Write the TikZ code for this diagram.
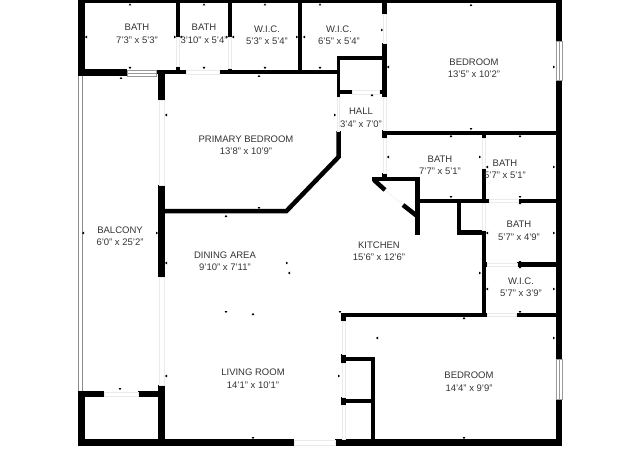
\documentclass[tikz,border=0pt]{standalone}
\usepackage{fontspec}
\setmainfont{Liberation Sans}
\definecolor{roomtext}{gray}{0.2}
\tikzset{
  every picture/.style = {
    x = 1pt,
    y = -1pt
  }
  ,
  wall/.style = {
    draw = black,
    line width = 4.5pt
  }
  ,
  wall-outer/.style = {
    draw = black,
    line width = 7pt
  }
  ,
  opening/.style = {
    draw = black!8,
    fill = white,
    line width = 0.5pt
  }
  ,
  glazing/.style = {
    draw = black!40,
    fill = white,
    line width = 0.5pt
  }
  , % labels of rooms
  label-room/.style = {
    font = \fontsize{9.5}{12.5}\selectfont,
    text = roomtext,
    align = center,
    inner sep = 0pt
  }
}
% dimension tick, tip towards the wall
\newcommand{\dimtick}[3]{\fill [shift = {(#1,#2)}, rotate = #3] (-1.3,-1) -- (1.3,-1) -- (0,1.2) -- cycle;}
\begin{document}
\begin{tikzpicture}
    \useasboundingbox (0,0) rectangle (640,460);
    % balcony rail
    \draw [black!45, line width = 0.6pt] (78.5,76) -- (78.5,391);
    \draw [black!45, line width = 0.6pt] (82.5,76) -- (82.5,391);
    % outer walls
    \fill (78,0) rectangle (562,3.5);
    \draw [wall-outer] (81.5,0) -- (81.5,73);
    \draw [wall-outer] (78,73) -- (127,73);
    \draw [wall-outer] (81.5,391) -- (81.5,446);
    \draw [wall-outer] (78,442.5) -- (294,442.5);
    \draw [wall-outer] (335,442.5) -- (562,442.5);
    \draw [wall, line width = 6pt] (559,0) -- (559,41);
    \draw [wall, line width = 6pt] (559,80) -- (559,359);
    \draw [wall, line width = 6pt] (559,399) -- (559,446);
    \draw [wall, line width = 6pt] (78,394) -- (104,394);
    \draw [wall, line width = 6pt] (138,394) -- (165,394);
    % balcony side
    \draw [wall, line width = 7pt] (161.5,70) -- (161.5,100);
    \draw [wall, line width = 7pt] (161.5,185) -- (161.5,277);
    \draw [wall, line width = 7pt] (161.5,385) -- (161.5,446);
    % top row
    \draw [wall] (156,72) -- (186,72);
    \draw [wall] (219,72) -- (340,72);
    \draw [wall] (178,3) -- (178,37);
    \draw [wall] (178,66) -- (178,72);
    \draw [wall] (230,3) -- (230,37);
    \draw [wall] (230,68) -- (230,72);
    \draw [wall] (300,3) -- (300,72);
    % closet and hall
    \draw [wall, line width = 3.5pt] (338.5,97) -- (338.5,58) -- (385,58);
    \draw [wall] (337,92) -- (352,92);
    \draw [wall] (379,92) -- (387,92);
    \draw [wall] (384.5,3) -- (384.5,14);
    \draw [wall] (384.5,43) -- (384.5,97);
    \draw [wall] (338.5,131) -- (338.5,157) -- (286.5,211) -- (165,211);
    % right side rooms
    \draw [wall] (382,133) -- (559,133);
    \draw [wall] (384.5,130) -- (384.5,138);
    \draw [wall] (384.5,173) -- (384.5,179);
    \draw [wall] (484,135) -- (484,138);
    \draw [wall] (484,168) -- (484,203);
    \draw [wall] (484,230) -- (484,317);
    \draw [wall] (417,201) -- (489,201);
    \draw [wall] (518,201) -- (559,201);
    \draw [wall] (459,201) -- (459,232.5) -- (484,232.5);
    \draw [wall] (484,264.5) -- (487,264.5);
    \draw [wall] (517,264.5) -- (559,264.5);
    \draw [wall] (341,315) -- (487,315);
    \draw [wall] (516,315) -- (559,315);
    % angled closet
    \draw [wall] (417.5,235) -- (417.5,179) -- (372,179);
    \draw [wall] (374,180) -- (385,190);
    \draw [wall] (403,205) -- (417,216);
    % lower bedroom closets
    \draw [wall, line width = 5pt] (343.5,313) -- (343.5,321);
    \draw [wall, line width = 5pt] (343.5,354) -- (343.5,363);
    \draw [wall, line width = 5pt] (343.5,397) -- (343.5,405);
    \draw [wall] (341,359) -- (373,359) -- (373,442);
    \draw [wall] (341,401) -- (373,401);
    % doors and openings
    \foreach \xa/\ya/\xb/\yb in {176.5/37/179.5/66, 228.5/37/231.5/68, 186/70/219/74,
        159/100/164/185, 159/277/164/385, 383/14/386/43, 352/90/379/94,
        337.5/97/339.5/131, 383/97/386/130, 383/138/386/173, 482.5/138/485.5/168,
        482.5/203/485.5/230, 489/199.5/518/202.5, 487/263/517/266, 487/313.5/516/316.5,
        342/321/345/354, 342/363/345/397, 342/405/345/439, 104/392/138/396,
        294/440/335/445}
      \draw [opening] (\xa,\ya) rectangle (\xb,\yb);
    \draw [opening] (385,190) -- (403,205);
    % windows
    \draw [glazing] (127,70) rectangle (156,76);
    \draw [glazing] (127,73) -- (156,73);
    \draw [glazing] (556,41) rectangle (562,80);
    \draw [glazing] (559,41) -- (559,80);
    \draw [glazing] (556,359) rectangle (562,399);
    \draw [glazing] (559,359) -- (559,399);
    % ticks
    \foreach \px/\py in {130/4.5, 204/4.5, 265/4.5, 320/4.5, 471/5, 121/78, 259/76, 226/216,
        372/95, 451/136, 520/136, 520/203, 520/267, 464/318, 253/314}
      {\dimtick{\px}{\py}{180}}
    \foreach \px/\py in {130/68, 204/68, 265/68, 320/68, 259/208, 471/129, 451/197, 520/197,
        520/262, 520/312, 464/438, 226/312, 340/312, 253/438, 120/389}
      {\dimtick{\px}{\py}{0}}
    \foreach \px/\py in {86/37, 181/37, 233/37, 304/37, 388/67, 166/115, 388/157, 487/167,
        487/233, 487/289, 166/263, 289/273, 377/338, 166/376, 83/233}
      {\dimtick{\px}{\py}{270}}
    \foreach \px/\py in {175/37, 227/37, 297/37, 382/30, 335/115, 554/67, 480/157, 554/167,
        554/233, 480/273, 554/289, 554/338, 339/376, 157/233, 287/263}
      {\dimtick{\px}{\py}{90}}
    % room labels
    \node [label-room] (bath-a) at (137,34) {BATH\\7'3" x 5'3"};
    \node [label-room] (bath-b) at (204,34) {BATH\\3'10" x 5'4"};
    \node [label-room] (wic-a) at (267,35) {W.I.C.\\5'3" x 5'4"};
    \node [label-room] (wic-b) at (339,35) {W.I.C.\\6'5" x 5'4"};
    \node [label-room] (bedroom-a) at (474,68) {BEDROOM\\13'5" x 10'2"};
    \node [label-room] (hall) at (361,118) {HALL\\3'4" x 7'0"};
    \node [label-room] (primary) at (246,145) {PRIMARY BEDROOM\\13'8" x 10'9"};
    \node [label-room] (bath-c) at (440,165.5) {BATH\\7'7" x 5'1"};
    \node [label-room] (bath-d) at (505,169.5) {BATH\\5'7" x 5'1"};
    \node [label-room] (bath-e) at (519,231) {BATH\\5'7" x 4'9"};
    \node [label-room] (wic-c) at (521,287) {W.I.C.\\5'7" x 3'9"};
    \node [label-room] (kitchen) at (379,251) {KITCHEN\\15'6" x 12'6"};
    \node [label-room] (bedroom-b) at (469,381.5) {BEDROOM\\14'4" x 9'9"};
    \node [label-room] (balcony) at (120,236) {BALCONY\\6'0" x 25'2"};
    \node [label-room] (dining) at (225,261) {DINING AREA\\9'10" x 7'11"};
    \node [label-room] (living) at (253,378.5) {LIVING ROOM\\14'1" x 10'1"};
\end{tikzpicture}
\end{document}
